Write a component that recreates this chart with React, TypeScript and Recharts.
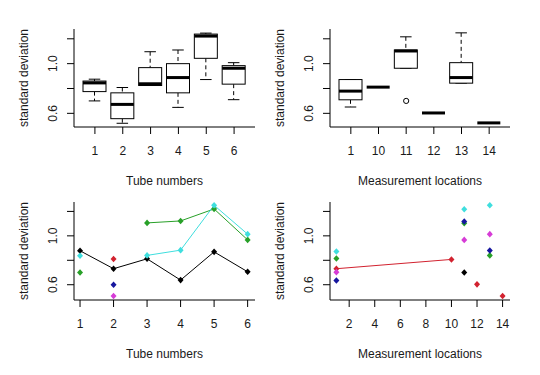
import React from 'react';
import { ComposedChart, Bar, Line, XAxis, YAxis } from 'recharts';

const FONT = '"Liberation Sans", Arial, sans-serif';
const INK = '#1a1a1a';

// --- top-left: box plots by tube ---
const tubes = ['1', '2', '3', '4', '5', '6'];
const tubeLo = [0.70, 0.52, 0.824, 0.648, 0.872, 0.71];
const tubeQ1 = [0.775, 0.557, 0.824, 0.765, 1.043, 0.835];
const tubeMed = [0.845, 0.672, 0.838, 0.888, 1.222, 0.963];
const tubeQ3 = [0.86, 0.765, 0.968, 1.0, 1.238, 0.984];
const tubeHi = [0.875, 0.808, 1.096, 1.11, 1.246, 1.008];

// --- top-right: box plots by measurement location ---
const locs = ['1', '10', '11', '12', '13', '14'];
const locLo = [0.651, 0.811, 0.963, 0.603, 0.843, 0.523];
const locQ1 = [0.709, 0.811, 0.963, 0.603, 0.843, 0.523];
const locMed = [0.779, 0.811, 1.102, 0.603, 0.888, 0.523];
const locQ3 = [0.872, 0.811, 1.11, 0.603, 1.008, 0.523];
const locHi = [0.872, 0.811, 1.216, 0.603, 1.248, 0.523];
const locOutlier = [null, null, 0.70, null, null, null];

// --- bottom-left: series per tube ---
const tubeNums = [1, 2, 3, 4, 5, 6];
const tBlack = [0.878, 0.731, 0.812, 0.638, 0.869, 0.706];
const tRed = [null, 0.81, null, null, null, null];
const tGreen = [0.70, null, 1.106, 1.122, 1.22, 0.967];
const tBlue = [null, 0.60, null, null, null, null];
const tCyan = [0.837, null, 0.84, 0.883, 1.25, 1.014];
const tMagenta = [null, 0.508, null, null, null, null];

// --- bottom-right: series per location ---
const locNums = [1, 10, 11, 12, 13, 14];
const lBlack = [null, null, 0.70, null, null, null];
const lRed = [0.731, 0.807, null, 0.603, null, 0.508];
const lGreen = [0.815, null, 1.103, null, 0.84, null];
const lBlue = [0.635, null, 1.117, null, 0.88, null];
const lCyan = [0.872, null, 1.218, null, 1.25, null];
const lMagenta = [0.703, null, 0.967, null, 1.014, null];

const boxYTicks = [0.6, 0.8, 1.0, 1.2];
const shownYLabels = [0.6, 1.0];
const locXTicks = [2, 4, 6, 8, 10, 12, 14];

const COLORS: Record<string, string> = {
  black: '#000000',
  red: '#d2222f',
  green: '#28a028',
  blue: '#16169e',
  cyan: '#3fdede',
  magenta: '#d63cd6',
};

const boxTable = (cats: string[], lo: number[], q1: number[], med: number[], q3: number[], hi: number[], out?: (number | null)[]) =>
  cats.map((c, i) => ({ cat: c, lo: lo[i], q1: q1[i], med: med[i], q3: q3[i], hi: hi[i], out: out ? out[i] : null }));

const tubeBoxes = boxTable(tubes, tubeLo, tubeQ1, tubeMed, tubeQ3, tubeHi);
const locBoxes = boxTable(locs, locLo, locQ1, locMed, locQ3, locHi, locOutlier);

const tubeSeries = tubeNums.map((x, i) => ({
  x, black: tBlack[i], red: tRed[i], green: tGreen[i], blue: tBlue[i], cyan: tCyan[i], magenta: tMagenta[i],
}));
const locSeries = locNums.map((x, i) => ({
  x, black: lBlack[i], red: lRed[i], green: lGreen[i], blue: lBlue[i], cyan: lCyan[i], magenta: lMagenta[i],
}));
const seriesOrder = ['black', 'red', 'green', 'blue', 'cyan', 'magenta'];

function BoxShape(props: any) {
  const { x, y, width, height, payload } = props;
  const { lo, q1, med, q3, hi } = payload;
  const top = Math.min(y, y + height);
  const h = Math.abs(height);
  const cx = x + width / 2;
  if (hi === lo || h < 0.5) {
    return <line x1={x} x2={x + width} y1={top} y2={top} stroke="#000" strokeWidth={3} />;
  }
  const py = (v: number) => top + (h * (hi - v)) / (hi - lo);
  const cap = width / 4;
  return (
    <g>
      <line x1={cx} x2={cx} y1={py(hi)} y2={py(q3)} stroke="#000" strokeDasharray="4 3" />
      <line x1={cx} x2={cx} y1={py(q1)} y2={py(lo)} stroke="#000" strokeDasharray="4 3" />
      <line x1={cx - cap} x2={cx + cap} y1={py(hi)} y2={py(hi)} stroke="#000" />
      <line x1={cx - cap} x2={cx + cap} y1={py(lo)} y2={py(lo)} stroke="#000" />
      <rect x={x} y={py(q3)} width={width} height={py(q1) - py(q3)} fill="#fff" stroke="#000" />
      <line x1={x} x2={x + width} y1={py(med)} y2={py(med)} stroke="#000" strokeWidth={3} />
    </g>
  );
}

function XTick(props: any) {
  const { x, y, payload } = props;
  return (
    <text x={x} y={y} dy="0.71em" textAnchor="middle" fontSize={12} fill={INK} fontFamily={FONT}>
      {payload.value}
    </text>
  );
}

function YTick(props: any) {
  const { x, y, payload } = props;
  const v = Number(payload.value);
  if (!shownYLabels.some((s) => Math.abs(s - v) < 1e-6)) return <g />;
  return (
    <text x={x} y={y} transform={`rotate(-90 ${x} ${y})`} textAnchor="middle" fontSize={12} fill={INK} fontFamily={FONT}>
      {v.toFixed(1)}
    </text>
  );
}

const xTitle = (text: string) => (p: any) => {
  const vb = p.viewBox;
  return (
    <text x={vb.x + vb.width / 2} y={vb.y + 58} textAnchor="middle" fontSize={12} fill={INK} fontFamily={FONT}>
      {text}
    </text>
  );
};

const yTitle = (p: any) => {
  const vb = p.viewBox;
  const x = vb.x + vb.width - 46;
  const y = vb.y + vb.height / 2;
  return (
    <text x={x} y={y} transform={`rotate(-90 ${x} ${y})`} textAnchor="middle" fontSize={12} fill={INK} fontFamily={FONT}>
      standard deviation
    </text>
  );
};

const diamond = (color: string) => (p: any) => {
  const { cx, cy, value, index } = p;
  if (value == null || cy == null || isNaN(cy)) return <g key={`e${index}`} />;
  return <path key={`d${index}`} d={`M${cx},${cy - 3.3}L${cx + 3},${cy}L${cx},${cy + 3.3}L${cx - 3},${cy}Z`} fill={color} />;
};

const openCircle = (p: any) => {
  const { cx, cy, value, index } = p;
  if (value == null || cy == null || isNaN(cy)) return <g key={`e${index}`} />;
  return <circle key={`o${index}`} cx={cx} cy={cy} r={2.6} fill="none" stroke="#000" />;
};

function BoxPanel({ data, title, left, yWidth, rightMargin }: any) {
  return (
    <div style={{ position: 'absolute', left, top: 0 }}>
      <ComposedChart width={270} height={187} data={data} margin={{ top: 29, right: rightMargin, left: 0, bottom: 0 }}>
        <XAxis dataKey="cat" type="category" height={60} padding={{ left: 7, right: 7 }} stroke="#000"
          tickSize={7} tickMargin={12} tick={<XTick />} interval={0} label={xTitle(title)} />
        <XAxis xAxisId="top" orientation="top" dataKey="cat" type="category" height={0} stroke="#000" tick={false} tickLine={false} />
        <YAxis type="number" domain={[0.49, 1.279]} allowDataOverflow ticks={boxYTicks} width={yWidth} stroke="#000"
          tickSize={7} tickMargin={10} tick={<YTick />} interval={0} label={yTitle} />
        <YAxis yAxisId="right" orientation="right" type="number" domain={[0.49, 1.279]} width={0} stroke="#000" tick={false} tickLine={false} />
        <Bar dataKey={(d: any) => [d.lo, d.hi]} barSize={23} shape={<BoxShape />} isAnimationActive={false} />
        <Line dataKey="out" stroke="none" dot={openCircle} activeDot={false} isAnimationActive={false} />
      </ComposedChart>
    </div>
  );
}

function SeriesPanel({ data, title, left, yWidth, rightMargin, domain, ticks }: any) {
  return (
    <div style={{ position: 'absolute', left, top: 187 }}>
      <ComposedChart width={270} height={188} data={data} margin={{ top: 15, right: rightMargin, left: 0, bottom: 0 }}>
        <XAxis dataKey="x" type="number" domain={domain} allowDataOverflow ticks={ticks} height={75} stroke="#000"
          tickSize={7} tickMargin={12} tick={<XTick />} interval={0} label={xTitle(title)} />
        <XAxis xAxisId="top" orientation="top" dataKey="x" type="number" domain={domain} allowDataOverflow height={0} stroke="#000" tick={false} tickLine={false} />
        <YAxis type="number" domain={[0.475, 1.277]} allowDataOverflow ticks={boxYTicks} width={yWidth} stroke="#000"
          tickSize={7} tickMargin={10} tick={<YTick />} interval={0} label={yTitle} />
        <YAxis yAxisId="right" orientation="right" type="number" domain={[0.475, 1.277]} width={0} stroke="#000" tick={false} tickLine={false} />
        {seriesOrder.map((k) => (
          <Line key={k} dataKey={k} type="linear" stroke={COLORS[k]} strokeWidth={1} connectNulls={false}
            dot={diamond(COLORS[k])} activeDot={false} isAnimationActive={false} />
        ))}
      </ComposedChart>
    </div>
  );
}

export default function App() {
  return (
    <div style={{ position: 'absolute', left: 0, top: 0, width: 540, height: 375, background: '#fff', fontFamily: FONT }}>
      <BoxPanel data={tubeBoxes} title="Tube numbers" left={0} yWidth={74} rightMargin={15} />
      <BoxPanel data={locBoxes} title="Measurement locations" left={270} yWidth={60} rightMargin={30} />
      <SeriesPanel data={tubeSeries} title="Tube numbers" left={0} yWidth={74} rightMargin={15} domain={[0.82, 6.22]} ticks={tubeNums} />
      <SeriesPanel data={locSeries} title="Measurement locations" left={270} yWidth={60} rightMargin={30} domain={[0.5, 14.58]} ticks={locXTicks} />
    </div>
  );
}
